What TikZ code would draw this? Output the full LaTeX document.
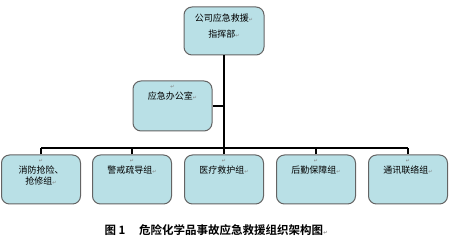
\documentclass[tikz,border=0pt]{standalone}
\usepackage{fontspec}
\newfontfamily\cjk{Noto Sans CJK SC}[BoldFont={Noto Sans CJK SC Bold}]
\newfontfamily\symfont{DejaVu Sans}
\usetikzlibrary{positioning}
\definecolor{boxfill}{RGB}{185,224,230}
\definecolor{boxline}{RGB}{100,100,100}
\newcommand{\pmark}{{\symfont\color{gray}\fontsize{5}{5}\selectfont ↵}}

\begin{document}
\begin{tikzpicture}[x=1pt, y=-1pt]
\tikzset{
    every node/.style={align=center},
    unitbox/.style={draw=boxline, line width=1pt, fill=boxfill, rounded corners=8pt,
        minimum width=79pt, minimum height=49pt, inner sep=0pt},
    unittext/.style={font=\cjk\fontsize{9}{11}\selectfont, inner sep=0pt},
    link/.style={line width=1.6pt, black}
}
\useasboundingbox (0,0) rectangle (450,248);

% command post and office
\node[unitbox, minimum width=80pt, minimum height=48pt] (hq) at (224,31) {};
\node[unittext, font=\cjk\fontsize{9}{16}\selectfont, below=7pt of hq.north] (hqt)
    {公司应急救援\pmark\\指挥部\pmark};
\node[unitbox, minimum height=50pt] (office) at (172.5,106) {};
\node[unittext, below=5pt of office.north] (officet) {\pmark\\应急办公室\pmark};

% working groups
\coordinate (bus) at (224,148);
\foreach \name/\xpos/\txt in {b1/41/{\pmark\\消防抢险、\\抢修组\pmark},
                               b2/132/{\pmark\\警戒疏导组\pmark},
                               b3/224/{\pmark\\医疗救护组\pmark},
                               b4/316/{\pmark\\后勤保障组\pmark},
                               b5/408/{\pmark\\通讯联络组\pmark}} {
    \node[unitbox] (\name) at (\xpos,179.5) {};
    \node[unittext, below=5pt of \name.north] (\name t) {\txt};
    \draw[link] (\name.north) -- (\name.north |- bus);
}

\draw[link] (b1.north |- bus) -- (b5.north |- bus);
\draw[link] (hq.south) -- (hq.south |- bus);
\draw[link] (office.east) -- (office.east -| hq.south);

% caption
\node[font=\cjk\bfseries\fontsize{11.5}{14}\selectfont, inner sep=0pt] (cap) at (216,230)
    {图 1\hspace{1.2em}危险化学品事故应急救援组织架构图\pmark};
\end{tikzpicture}
\end{document}
